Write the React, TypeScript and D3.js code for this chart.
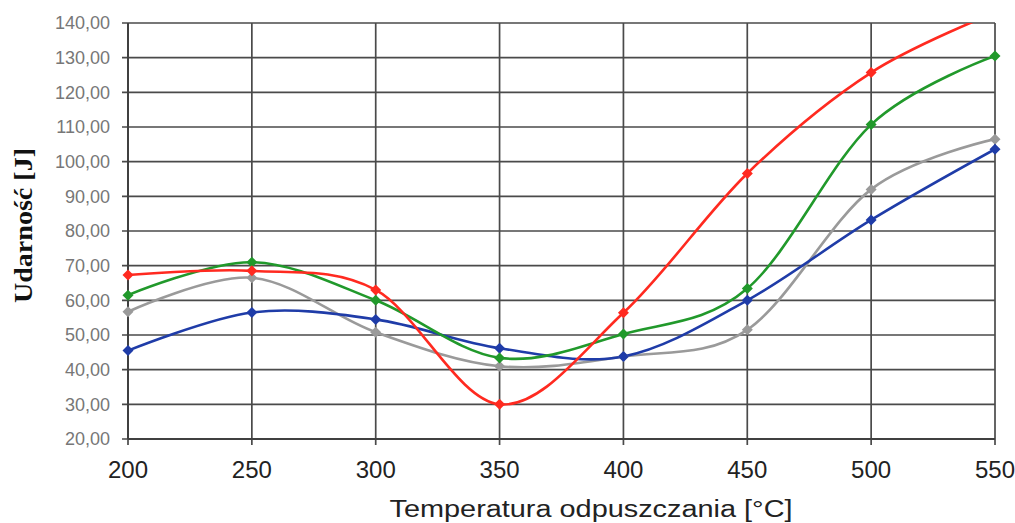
import React from "react";
import * as d3 from "d3";

const temps = [200, 250, 300, 350, 400, 450, 500, 550];
const red = [67.3, 68.5, 63.0, 30.0, 56.4, 96.6, 125.7, 143.0];
const green = [61.5, 71.0, 60.0, 43.4, 50.3, 63.4, 110.7, 130.5];
const gray = [56.7, 66.5, 50.8, 41.0, 43.8, 51.5, 92.0, 106.5];
const blue = [45.5, 56.5, 54.5, 46.2, 43.8, 60.0, 83.2, 103.6];
const yTicks = [20, 30, 40, 50, 60, 70, 80, 90, 100, 110, 120, 130, 140];
const xTicks = [200, 250, 300, 350, 400, 450, 500, 550];

const seriesList = [
  { name: "gray", values: gray, color: "#9a9a9a" },
  { name: "blue", values: blue, color: "#1f3ca8" },
  { name: "green", values: green, color: "#21992b" },
  { name: "red", values: red, color: "#ff2a20" },
];

export default function App() {
  const W = 1015, H = 523;
  const L = 128, R = 995, T = 23, B = 439;
  const x = d3.scaleLinear().domain([200, 550]).range([L, R]);
  const y = d3.scaleLinear().domain([20, 140]).range([B, T]);
  const line = d3
    .line<number>()
    .x((_, i) => x(temps[i]))
    .y((d) => y(d))
    .curve(d3.curveCardinal.tension(0));
  const diamond = (cx: number, cy: number, r: number) =>
    `M${cx},${cy - r}L${cx + r},${cy}L${cx},${cy + r}L${cx - r},${cy}Z`;
  const fmt = (v: number) => v.toFixed(2).replace(".", ",");
  return (
    <svg
      width={W}
      height={H}
      style={{ position: "absolute", left: 0, top: 0, background: "#fff" }}
    >
      <defs>
        <clipPath id="plot">
          <rect x={L} y={T} width={R - L} height={B - T} />
        </clipPath>
      </defs>
      <rect x={0} y={0} width={W} height={H} fill="#fff" />
      {yTicks.map((t) => (
        <g key={"y" + t}>
          <line x1={L - 6} x2={R} y1={y(t)} y2={y(t)} stroke="#4a4a4a" strokeWidth={1.7} />
          <text
            x={110}
            y={y(t)}
            dy="0.36em"
            textAnchor="end"
            fontFamily="Arial, 'Liberation Sans', sans-serif"
            fontSize={18}
            fill="#777"
          >
            {fmt(t)}
          </text>
        </g>
      ))}
      {xTicks.map((t) => (
        <g key={"x" + t}>
          <line x1={x(t)} x2={x(t)} y1={T} y2={B + 6} stroke="#4a4a4a" strokeWidth={1.7} />
          <text
            x={x(t)}
            y={478}
            textAnchor="middle"
            fontFamily="Arial, 'Liberation Sans', sans-serif"
            fontSize={24}
            fill="#222"
          >
            {t}
          </text>
        </g>
      ))}
      <line x1={L} x2={L} y1={T} y2={B} stroke="#404040" strokeWidth={2} />
      <line x1={L} x2={R} y1={B} y2={B} stroke="#404040" strokeWidth={2} />
      <g clipPath="url(#plot)">
        {seriesList.map((s) => (
          <path
            key={s.name}
            d={line(s.values) || ""}
            fill="none"
            stroke={s.color}
            strokeWidth={2.6}
          />
        ))}
      </g>
      {seriesList.map((s) => (
        <g key={s.name + "m"}>
          {s.values.map((v, i) =>
            v <= 140 ? (
              <path key={i} d={diamond(x(temps[i]), y(v), 5.5)} fill={s.color} />
            ) : null
          )}
        </g>
      ))}
      <text
        x={591}
        y={517}
        textAnchor="middle"
        fontFamily="Arial, 'Liberation Sans', sans-serif"
        fontSize={23}
        fill="#222"
        textLength={403}
        lengthAdjust="spacingAndGlyphs"
      >
        Temperatura odpuszczania [°C]
      </text>
      <text
        transform={`translate(32, 225.5) rotate(-90)`}
        textAnchor="middle"
        fontFamily="'Times New Roman', 'Liberation Serif', serif"
        fontWeight="bold"
        fontSize={26}
        fill="#111"
        textLength={155}
        lengthAdjust="spacingAndGlyphs"
      >
        Udarność  [J]
      </text>
    </svg>
  );
}
